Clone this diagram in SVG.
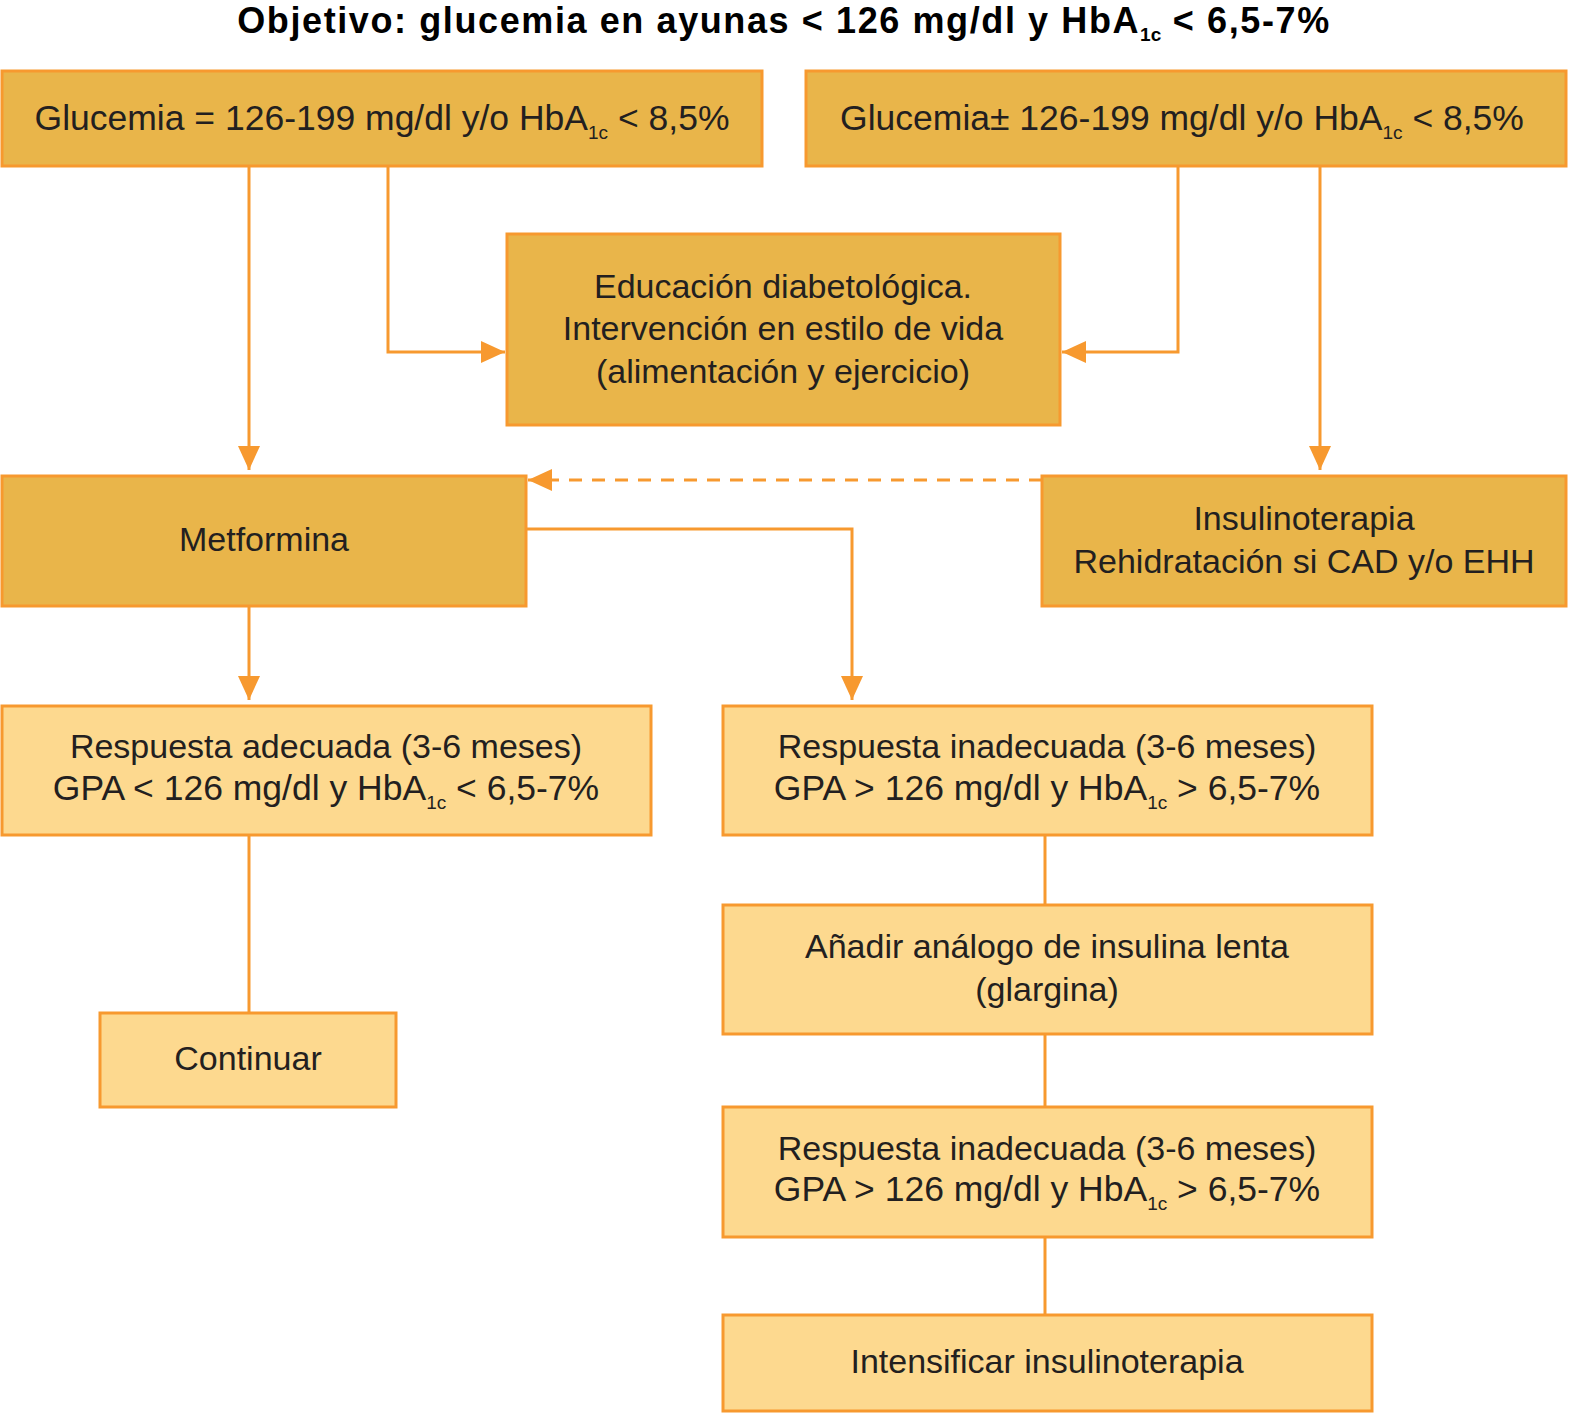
<svg xmlns="http://www.w3.org/2000/svg" width="1569" height="1414" viewBox="0 0 1569 1414">
<defs>
<style>
.dark{fill:#E9B54A;stroke:#F7992F;stroke-width:3}
.light{fill:#FDD98F;stroke:#F7992F;stroke-width:3}
.t{font-family:"Liberation Sans",Arial,sans-serif;font-size:34px;fill:#231F20;text-anchor:middle}
.w{font-size:35.5px}
.title{font-family:"Liberation Sans",Arial,sans-serif;font-size:36px;font-weight:bold;letter-spacing:1.6px;fill:#000;text-anchor:middle}
.sub{font-size:19px;letter-spacing:0}
.ln{fill:none;stroke:#F7992F;stroke-width:3}
.dash{stroke-dasharray:13 10}
</style>
<marker id="a" viewBox="0 0 24 22" refX="24" refY="11" markerWidth="24" markerHeight="22" markerUnits="userSpaceOnUse" orient="auto">
<path d="M0,0 L24,11 L0,22 z" fill="#F7992F"/>
</marker>
</defs>
<rect width="1569" height="1414" fill="#fff"/>
<text class="title" x="784" y="33">Objetivo: glucemia en ayunas &lt; 126 mg/dl y HbA<tspan class="sub" dy="8">1c</tspan><tspan dy="-8"> &lt; 6,5-7%</tspan></text>

<g id="connectors">
<path class="ln" d="M249,167 V470" marker-end="url(#a)"/>
<path class="ln" d="M388,167 V352 H505" marker-end="url(#a)"/>
<path class="ln" d="M1178,167 V352 H1062" marker-end="url(#a)"/>
<path class="ln" d="M1320,167 V470" marker-end="url(#a)"/>
<path class="ln dash" d="M1042,480 H528" marker-end="url(#a)"/>
<path class="ln" d="M526,529 H852 V700" marker-end="url(#a)"/>
<path class="ln" d="M249,606 V700" marker-end="url(#a)"/>
<path class="ln" d="M249,835 V1013"/>
<path class="ln" d="M1045,835 V905"/>
<path class="ln" d="M1045,1034 V1107"/>
<path class="ln" d="M1045,1237 V1315"/>
</g>

<g id="n1">
<rect class="dark" x="2" y="71" width="760" height="95"/>
<text class="t w" x="382" y="130">Glucemia = 126-199 mg/dl y/o HbA<tspan class="sub" dy="9">1c</tspan><tspan dy="-9"> &lt; 8,5%</tspan></text>
</g>
<g id="n2">
<rect class="dark" x="806" y="71" width="760" height="95"/>
<text class="t w" x="1182" y="130">Glucemia± 126-199 mg/dl y/o HbA<tspan class="sub" dy="9">1c</tspan><tspan dy="-9"> &lt; 8,5%</tspan></text>
</g>
<g id="n3">
<rect class="dark" x="507" y="234" width="553" height="191"/>
<text class="t" x="783" y="298">Educación diabetológica.</text>
<text class="t" x="783" y="340">Intervención en estilo de vida</text>
<text class="t" x="783" y="383">(alimentación y ejercicio)</text>
</g>
<g id="n4">
<rect class="dark" x="2" y="476" width="524" height="130"/>
<text class="t" x="264" y="551">Metformina</text>
</g>
<g id="n5">
<rect class="dark" x="1042" y="476" width="524" height="130"/>
<text class="t" x="1304" y="530">Insulinoterapia</text>
<text class="t" x="1304" y="573">Rehidratación si CAD y/o EHH</text>
</g>
<g id="n6">
<rect class="light" x="2" y="706" width="649" height="129"/>
<text class="t" x="326" y="758">Respuesta adecuada (3-6 meses)</text>
<text class="t w" x="326" y="800">GPA &lt; 126 mg/dl y HbA<tspan class="sub" dy="9">1c</tspan><tspan dy="-9"> &lt; 6,5-7%</tspan></text>
</g>
<g id="n7">
<rect class="light" x="723" y="706" width="649" height="129"/>
<text class="t" x="1047" y="758">Respuesta inadecuada (3-6 meses)</text>
<text class="t w" x="1047" y="800">GPA &gt; 126 mg/dl y HbA<tspan class="sub" dy="9">1c</tspan><tspan dy="-9"> &gt; 6,5-7%</tspan></text>
</g>
<g id="n8">
<rect class="light" x="100" y="1013" width="296" height="94"/>
<text class="t" x="248" y="1070">Continuar</text>
</g>
<g id="n9">
<rect class="light" x="723" y="905" width="649" height="129"/>
<text class="t" x="1047" y="958">Añadir análogo de insulina lenta</text>
<text class="t" x="1047" y="1001">(glargina)</text>
</g>
<g id="n10">
<rect class="light" x="723" y="1107" width="649" height="130"/>
<text class="t" x="1047" y="1160">Respuesta inadecuada (3-6 meses)</text>
<text class="t w" x="1047" y="1201">GPA &gt; 126 mg/dl y HbA<tspan class="sub" dy="9">1c</tspan><tspan dy="-9"> &gt; 6,5-7%</tspan></text>
</g>
<g id="n11">
<rect class="light" x="723" y="1315" width="649" height="96"/>
<text class="t" x="1047" y="1373">Intensificar insulinoterapia</text>
</g>
</svg>
